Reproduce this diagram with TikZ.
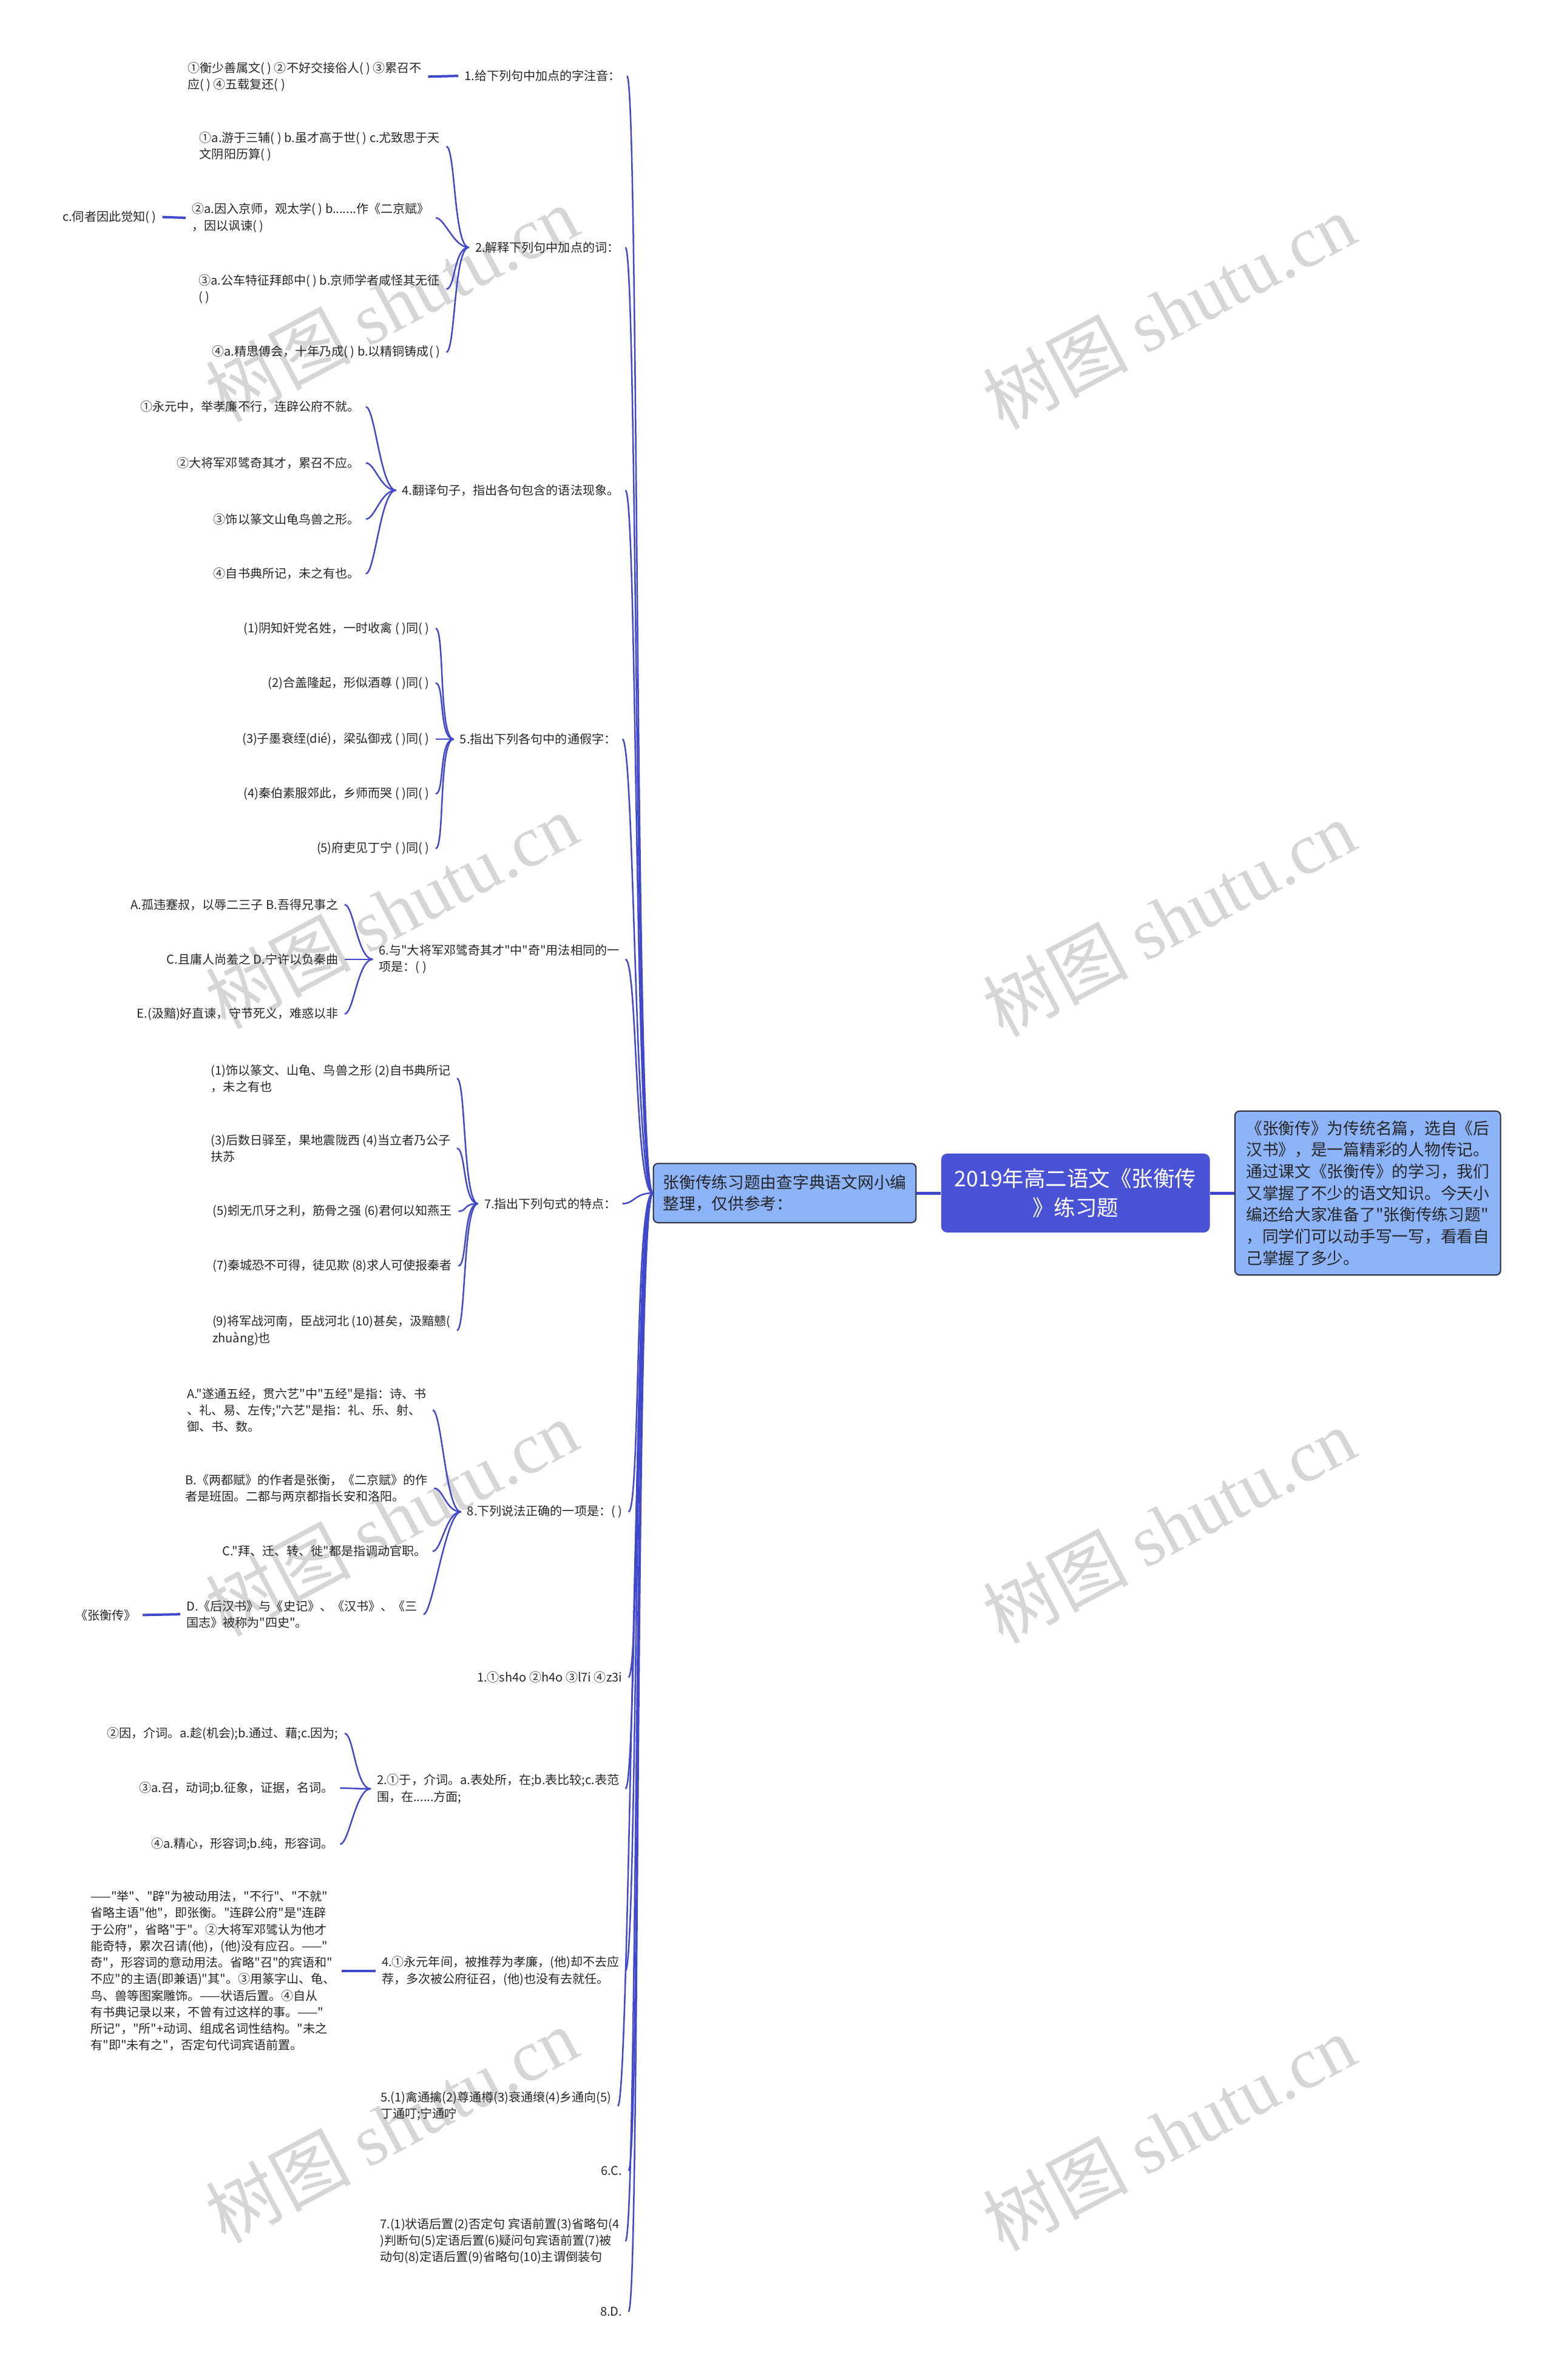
\documentclass[tikz,border=0pt]{standalone}
\usepackage{fontspec}
\newfontfamily\zh{Noto Sans CJK SC}
\newfontfamily\wmserif{Liberation Serif}
\usetikzlibrary{positioning}

\definecolor{linkblue}{RGB}{64,72,204}
\definecolor{topicblue}{RGB}{74,82,214}
\definecolor{notefill}{RGB}{141,180,248}
\definecolor{noteline}{RGB}{45,45,60}

\begin{document}
\begin{tikzpicture}[
        x=0.5mm, y=-0.5mm,
        topic/.style={rectangle, rounded corners=2mm, fill=topicblue, text=white, align=center, minimum width=88.5mm, minimum height=26mm, font=\zh\fontsize{20.2}{27.4}\selectfont},
        note/.style={rectangle, rounded corners=1.5mm, draw=noteline, line width=0.4mm, fill=notefill, text=black!85, align=left, inner xsep=2mm, font=\zh\fontsize{15.2}{20.3}\selectfont},
        item/.style={anchor=east, align=left, inner xsep=2mm, inner ysep=0.5mm, text=black!85, font=\zh\fontsize{11.4}{15.5}\selectfont},
        stamp/.style={rotate=28, text=black!16, font=\zh\fontsize{68}{68}\selectfont},
        trunk/.style={draw=linkblue, line width=1mm},
        branch/.style={draw=linkblue, line width=0.5mm},
        stub/.style={draw=linkblue, line width=0.8mm}
    ]
        \fill[white] (0,0) rectangle (1023,1568);
        \useasboundingbox (0,0) rectangle (1023,1568);

        % Watermarks
        \node[stamp] (wm1) at (258,200) {树图 {\wmserif shutu.cn}};
        \node[stamp] (wm2) at (258,600) {树图 {\wmserif shutu.cn}};
        \node[stamp] (wm3) at (258,1000) {树图 {\wmserif shutu.cn}};
        \node[stamp] (wm4) at (258,1400) {树图 {\wmserif shutu.cn}};
        \node[stamp] (wm5) at (770,205) {树图 {\wmserif shutu.cn}};
        \node[stamp] (wm6) at (770,605) {树图 {\wmserif shutu.cn}};
        \node[stamp] (wm7) at (770,1005) {树图 {\wmserif shutu.cn}};
        \node[stamp] (wm8) at (770,1405) {树图 {\wmserif shutu.cn}};

        % Central nodes
        \node[topic] (root) at (708.5,786) {2019年高二语文《张衡传\\》练习题};
        \node[note, minimum width=86.5mm, minimum height=19.5mm, left=8mm of root] (intro) {张衡传练习题由查字典语文网小编\\整理，仅供参考：};
        \node[note, minimum width=87.5mm, minimum height=54mm, right=8mm of root] (summary) {《张衡传》为传统名篇，选自《后\\汉书》，是一篇精彩的人物传记。\\通过课文《张衡传》的学习，我们\\又掌握了不少的语文知识。今天小\\编还给大家准备了"张衡传练习题"\\，同学们可以动手写一写，看看自\\己掌握了多少。};

        % Questions
        \node[item] (q1) at (413,50) {1.给下列句中加点的字注音：};
        \node[item] (q2) at (412,163) {2.解释下列句中加点的词：};
        \node[item] (q4) at (412,323) {4.翻译句子，指出各句包含的语法现象。};
        \node[item] (q5) at (410,487) {5.指出下列各句中的通假字：};
        \node[item] (q6) at (412,632) {6.与"大将军邓骘奇其才"中"奇"用法相同的一\\项是：( )};
        \node[item] (q7) at (410,793) {7.指出下列句式的特点：};
        \node[item] (q8) at (414,996) {8.下列说法正确的一项是：( )};

        % Answers
        \node[item] (a1) at (414,1105) {1.①sh4o ②h4o ③l7i ④z3i};
        \node[item] (a2) at (412,1178.5) {2.①于，介词。a.表处所，在;b.表比较;c.表范\\围，在......方面;};
        \node[item] (a4) at (412,1298.5) {4.①永元年间，被推荐为孝廉，(他)却不去应\\荐，多次被公府征召，(他)也没有去就任。};
        \node[item] (a5) at (407,1387.5) {5.(1)禽通擒(2)尊通樽(3)衰通缞(4)乡通向(5)\\丁通叮;宁通咛};
        \node[item] (a6) at (414,1430) {6.C.};
        \node[item] (a7) at (412,1476.5) {7.(1)状语后置(2)否定句 宾语前置(3)省略句(4\\)判断句(5)定语后置(6)疑问句宾语前置(7)被\\动句(8)定语后置(9)省略句(10)主谓倒装句};
        \node[item] (a8) at (414,1523) {8.D.};

        % Sub items
        \node[item] (q1a) at (282,50.5) {①衡少善属文( ) ②不好交接俗人( ) ③累召不\\应( ) ④五载复还( )};

        \node[item] (q2a) at (294,96.5) {①a.游于三辅( ) b.虽才高于世( ) c.尤致思于天\\文阴阳历算( )};
        \node[item] (q2b) at (287,143.5) {②a.因入京师，观太学( ) b.......作《二京赋》\\，因以讽谏( )};
        \node[item] (q2c) at (294,190.5) {③a.公车特征拜郎中( ) b.京师学者咸怪其无征\\( )};
        \node[item] (q2d) at (294,232) {④a.精思傅会，十年乃成( ) b.以精铜铸成( )};
        \node[item] (q2b1) at (107,143) {c.伺者因此觉知( )};

        \node[item] (q4a) at (241,268) {①永元中，举孝廉不行，连辟公府不就。};
        \node[item] (q4b) at (241,305) {②大将军邓骘奇其才，累召不应。};
        \node[item] (q4c) at (241,342) {③饰以篆文山龟鸟兽之形。};
        \node[item] (q4d) at (241,378) {④自书典所记，未之有也。};

        \node[item] (q5a) at (287,414) {(1)阴知奸党名姓，一时收禽 ( )同( )};
        \node[item] (q5b) at (287,450) {(2)合盖隆起，形似酒尊 ( )同( )};
        \node[item] (q5c) at (287,487) {(3)子墨衰绖(dié)，梁弘御戎 ( )同( )};
        \node[item] (q5d) at (287,523) {(4)秦伯素服郊此，乡师而哭 ( )同( )};
        \node[item] (q5e) at (287,559) {(5)府吏见丁宁 ( )同( )};

        \node[item] (q6a) at (227,596) {A.孤违蹇叔，以辱二三子 B.吾得兄事之};
        \node[item] (q6b) at (227,632) {C.且庸人尚羞之 D.宁许以负秦曲};
        \node[item] (q6c) at (227,668) {E.(汲黯)好直谏，守节死义，难惑以非};

        \node[item] (q7a) at (301,710.5) {(1)饰以篆文、山龟、鸟兽之形 (2)自书典所记\\，未之有也};
        \node[item] (q7b) at (301,756.5) {(3)后数日驿至，果地震陇西 (4)当立者乃公子\\扶苏};
        \node[item] (q7c) at (302,798) {(5)蚓无爪牙之利，筋骨之强 (6)君何以知燕王};
        \node[item] (q7d) at (302,834) {(7)秦城恐不可得，徒见欺 (8)求人可使报秦者};
        \node[item] (q7e) at (301,876.5) {(9)将军战河南，臣战河北 (10)甚矣，汲黯戆(\\zhuàng)也};

        \node[item] (q8a) at (285,929) {A."遂通五经，贯六艺"中"五经"是指：诗、书\\、礼、易、左传;"六艺"是指：礼、乐、射、\\御、书、数。};
        \node[item] (q8b) at (286,980.5) {B.《两都赋》的作者是张衡，《二京赋》的作\\者是班固。二都与两京都指长安和洛阳。};
        \node[item] (q8c) at (285,1022) {C."拜、迁、转、徙"都是指调动官职。};
        \node[item] (q8d) at (279,1063.5) {D.《后汉书》与《史记》、《汉书》、《三\\国志》被称为"四史"。};
        \node[item] (q8d1) at (94,1064) {《张衡传》};

        \node[item] (a2a) at (227,1142) {②因，介词。a.趁(机会);b.通过、藉;c.因为;};
        \node[item] (a2b) at (224,1178) {③a.召，动词;b.征象，证据，名词。};
        \node[item] (a2c) at (224,1215) {④a.精心，形容词;b.纯，形容词。};

        \node[item] (a4a) at (225,1298.5) {——"举"、"辟"为被动用法，"不行"、"不就"\\省略主语"他"，即张衡。"连辟公府"是"连辟\\于公府"，省略"于"。②大将军邓骘认为他才\\能奇特，累次召请(他)，(他)没有应召。——"\\奇"，形容词的意动用法。省略"召"的宾语和"\\不应"的主语(即兼语)"其"。③用篆字山、龟、\\鸟、兽等图案雕饰。——状语后置。④自从\\有书典记录以来，不曾有过这样的事。——"\\所记"，"所"+动词、组成名词性结构。"未之\\有"即"未有之"，否定句代词宾语前置。};

        % Paths
        \draw[trunk] (intro.east) -- (root.west);
        \draw[trunk] (root.east) -- (summary.west);

        \draw[branch] (intro.west) .. controls +(-12,0) and +(8,0) .. (q1.east);
        \draw[branch] (intro.west) .. controls +(-12,0) and +(8,0) .. (q2.east);
        \draw[branch] (intro.west) .. controls +(-12,0) and +(8,0) .. (q4.east);
        \draw[branch] (intro.west) .. controls +(-12,0) and +(8,0) .. (q5.east);
        \draw[branch] (intro.west) .. controls +(-12,0) and +(8,0) .. (q6.east);
        \draw[branch] (intro.west) .. controls +(-12,0) and +(8,0) .. (q7.east);
        \draw[branch] (intro.west) .. controls +(-12,0) and +(8,0) .. (q8.east);
        \draw[branch] (intro.west) .. controls +(-12,0) and +(8,0) .. (a1.east);
        \draw[branch] (intro.west) .. controls +(-12,0) and +(8,0) .. (a2.east);
        \draw[branch] (intro.west) .. controls +(-12,0) and +(8,0) .. (a4.east);
        \draw[branch] (intro.west) .. controls +(-12,0) and +(8,0) .. (a5.east);
        \draw[branch] (intro.west) .. controls +(-12,0) and +(8,0) .. (a6.east);
        \draw[branch] (intro.west) .. controls +(-12,0) and +(8,0) .. (a7.east);
        \draw[branch] (intro.west) .. controls +(-12,0) and +(8,0) .. (a8.east);

        \draw[stub] (q1a.east) -- (q1.west);

        \draw[branch] (q2.west) .. controls +(-10,0) and +(6,0) .. (q2a.east);
        \draw[branch] (q2.west) .. controls +(-10,0) and +(6,0) .. (q2b.east);
        \draw[branch] (q2.west) .. controls +(-10,0) and +(6,0) .. (q2c.east);
        \draw[branch] (q2.west) .. controls +(-10,0) and +(6,0) .. (q2d.east);
        \draw[stub] (q2b1.east) -- (q2b.west);

        \draw[branch] (q4.west) .. controls +(-10,0) and +(6,0) .. (q4a.east);
        \draw[branch] (q4.west) .. controls +(-10,0) and +(6,0) .. (q4b.east);
        \draw[branch] (q4.west) .. controls +(-10,0) and +(6,0) .. (q4c.east);
        \draw[branch] (q4.west) .. controls +(-10,0) and +(6,0) .. (q4d.east);

        \draw[branch] (q5.west) .. controls +(-10,0) and +(6,0) .. (q5a.east);
        \draw[branch] (q5.west) .. controls +(-10,0) and +(6,0) .. (q5b.east);
        \draw[branch] (q5.west) .. controls +(-10,0) and +(6,0) .. (q5c.east);
        \draw[branch] (q5.west) .. controls +(-10,0) and +(6,0) .. (q5d.east);
        \draw[branch] (q5.west) .. controls +(-10,0) and +(6,0) .. (q5e.east);

        \draw[branch] (q6.west) .. controls +(-10,0) and +(6,0) .. (q6a.east);
        \draw[branch] (q6.west) .. controls +(-10,0) and +(6,0) .. (q6b.east);
        \draw[branch] (q6.west) .. controls +(-10,0) and +(6,0) .. (q6c.east);

        \draw[branch] (q7.west) .. controls +(-10,0) and +(6,0) .. (q7a.east);
        \draw[branch] (q7.west) .. controls +(-10,0) and +(6,0) .. (q7b.east);
        \draw[branch] (q7.west) .. controls +(-10,0) and +(6,0) .. (q7c.east);
        \draw[branch] (q7.west) .. controls +(-10,0) and +(6,0) .. (q7d.east);
        \draw[branch] (q7.west) .. controls +(-10,0) and +(6,0) .. (q7e.east);

        \draw[branch] (q8.west) .. controls +(-10,0) and +(6,0) .. (q8a.east);
        \draw[branch] (q8.west) .. controls +(-10,0) and +(6,0) .. (q8b.east);
        \draw[branch] (q8.west) .. controls +(-10,0) and +(6,0) .. (q8c.east);
        \draw[branch] (q8.west) .. controls +(-10,0) and +(6,0) .. (q8d.east);
        \draw[stub] (q8d1.east) -- (q8d.west);

        \draw[branch] (a2.west) .. controls +(-10,0) and +(6,0) .. (a2a.east);
        \draw[branch] (a2.west) .. controls +(-10,0) and +(6,0) .. (a2b.east);
        \draw[branch] (a2.west) .. controls +(-10,0) and +(6,0) .. (a2c.east);

        \draw[stub] (a4a.east) -- (a4.west);

    \end{tikzpicture}
\end{document}
